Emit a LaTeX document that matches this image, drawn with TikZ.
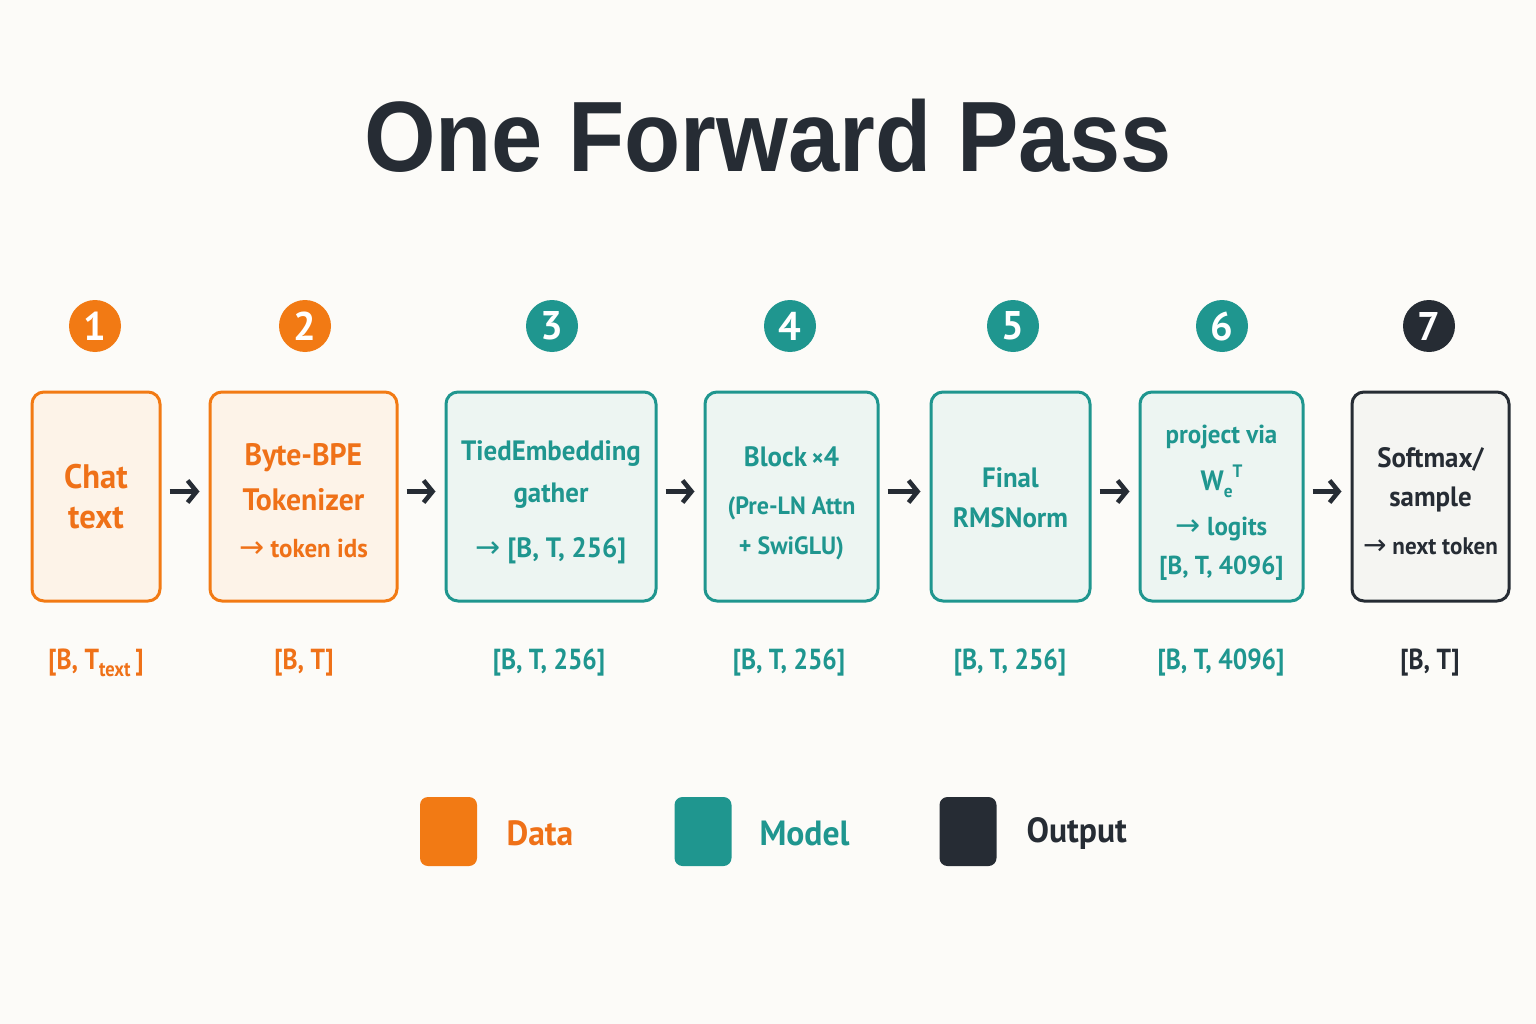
\documentclass[tikz,border=0pt]{standalone}
\usepackage{fontspec}
\setmainfont{PT Sans}
\newfontfamily\boxfont{PT Sans Bold}[FakeStretch=0.96]
\newfontfamily\dimfont{PT Sans Bold}[FakeStretch=0.88]
\newfontfamily\titlefont{Liberation Sans}
\newfontfamily\arw{DejaVu Sans}
\usetikzlibrary{arrows.meta,calc}
\definecolor{bg}{HTML}{FCFBF8}
\definecolor{org}{HTML}{F27A14}
\definecolor{orgtxt}{HTML}{EF7118}
\definecolor{orgfill}{HTML}{FDF3E8}
\definecolor{tea}{HTML}{1F968F}
\definecolor{teafill}{HTML}{EDF5F2}
\definecolor{drk}{HTML}{262C34}
\definecolor{drkfill}{HTML}{F5F5F2}
\newcommand{\fs}[2]{\fontsize{#1}{#2}\selectfont}
\newcommand{\ar}[1]{{\arw\fs{#1}{#1}→}}
\tikzset{
  box/.style={draw, line width=3pt, rounded corners=12pt, minimum height=209pt, inner sep=0pt},
  dbox/.style={box, draw=org, fill=orgfill},
  mbox/.style={box, draw=tea, fill=teafill},
  obox/.style={box, draw=drk, fill=drkfill},
  txt/.style={align=center, inner sep=0pt},
  num/.style={circle, minimum size=52pt, inner sep=0pt, text=white, font=\bfseries\fs{40}{40}},
  dim/.style={anchor=base, font=\dimfont\fs{29}{29}},
  arr/.style={draw=drk, line width=4.5pt, -{Straight Barb[length=9pt,width=22pt]}},
  leg/.style={rounded corners=8pt, minimum width=57pt, minimum height=69pt, inner sep=0pt},
  legtxt/.style={anchor=west, font=\boxfont\fs{35}{35}}
}
\begin{document}
\begin{tikzpicture}[x=1pt,y=-1pt]
\fill[bg] (0,0) rectangle (1536,1024);
\useasboundingbox (0,0) rectangle (1536,1024);

\node[anchor=base, text=drk, font=\titlefont\bfseries\fs{100}{100}] (title) at (768,172) {\scalebox{0.92}[1]{One Forward Pass}};

% step numbers
\node[num, fill=org] (n1) at (95,326) {1};
\node[num, fill=org] (n2) at (305,326) {2};
\node[num, fill=tea] (n3) at (552,326) {3};
\node[num, fill=tea] (n4) at (790,326) {4};
\node[num, fill=tea] (n5) at (1013,326) {5};
\node[num, fill=tea] (n6) at (1222,326) {6};
\node[num, fill=drk] (n7) at (1429,326) {7};

% boxes
\node[dbox, minimum width=128pt] (b1) at (96,496.5) {};
\node[dbox, minimum width=187pt] (b2) at (303.5,496.5) {};
\node[mbox, minimum width=210pt] (b3) at (551,496.5) {};
\node[mbox, minimum width=173pt] (b4) at (791.5,496.5) {};
\node[mbox, minimum width=159pt] (b5) at (1010.5,496.5) {};
\node[mbox, minimum width=163pt] (b6) at (1221.5,496.5) {};
\node[obox, minimum width=157pt] (b7) at (1430.5,496.5) {};

% box texts
\node[txt, text=orgtxt, font=\boxfont\fs{34}{40}] (b1t) at ([yshift=0pt]b1.center) {Chat\\text};
\node[txt, text=orgtxt, font=\boxfont\fs{31}{45}] (b2t) at ([yshift=-4pt]b2.center) {Byte-BPE\\Tokenizer\\[2pt]{\fs{26}{26}\ar{30} token ids}};
\node[txt, text=tea, font=\boxfont\fs{28}{42}] (b3t) at ([yshift=-6pt]b3.center) {TiedEmbedding\\gather\\[13pt]\ar{30} [B, T, 256]};
\node[txt, text=tea, font=\boxfont\fs{28}{40}] (b4t) at ([yshift=-7pt]b4.center) {Block\,{\fs{24}{24}×}4\\[8pt]{\fs{25}{40}(Pre-LN Attn}\\{\fs{25}{40}+ SwiGLU)}};
\node[txt, text=tea, font=\boxfont\fs{28}{40}] (b5t) at ([yshift=-1pt]b5.center) {Final\\RMSNorm};
\node[txt, text=tea, font=\boxfont\fs{26}{45}] (b6t) at ([yshift=-6pt]b6.center) {project via\\[2pt]{\fs{28}{28}W\raisebox{-7pt}{\fs{18}{18}e}\raisebox{13pt}{\fs{18}{18}T}}\\\ar{30} logits\\[-6pt][B, T, 4096]};
\node[txt, text=drk, font=\boxfont\fs{28}{39}] (b7t) at ([yshift=-5pt]b7.center) {Softmax/\\sample\\[9pt]{\fs{24}{24}\ar{28} next token}};

% arrows
\foreach \a/\b in {b1/b2,b2/b3,b3/b4,b4/b5,b5/b6,b6/b7}
  \draw[arr] ([xshift=8pt,yshift=5pt]\a.east) -- ([xshift=-9pt,yshift=5pt]\b.west);

% dims
\node[dim, text=orgtxt] (d1) at (96,669) {[B, T\raisebox{-7pt}{\fs{21}{21}text}\,]};
\node[dim, text=orgtxt] (d2) at (304,669) {[B, T]};
\node[dim, text=tea] (d3) at (549,669) {[B, T, 256]};
\node[dim, text=tea] (d4) at (789,669) {[B, T, 256]};
\node[dim, text=tea] (d5) at (1010,669) {[B, T, 256]};
\node[dim, text=tea] (d6) at (1221,669) {[B, T, 4096]};
\node[dim, text=drk] (d7) at (1430,669) {[B, T]};

% legend
\node[leg, fill=org] (l1) at (448.5,831.5) {};
\node[leg, fill=tea] (l2) at (703,831.5) {};
\node[leg, fill=drk] (l3) at (968,831.5) {};
\node[legtxt, text=orgtxt] (t1) at (503,833) {Data};
\node[legtxt, text=tea] (t2) at (756,833) {Model};
\node[legtxt, text=drk] (t3) at (1023,833) {Output};
\end{tikzpicture}
\end{document}
